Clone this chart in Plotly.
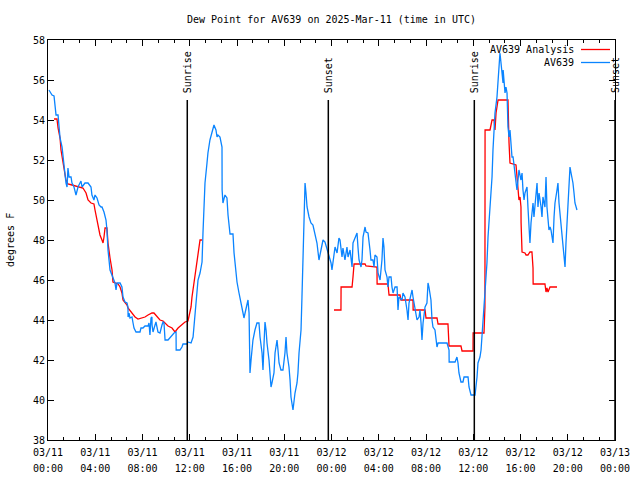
import pandas as pd
import plotly.graph_objects as go

BASE = pd.Timestamp("2025-03-11 00:00")

# ---- AV639 observed dew point (hours since 03/11 00:00 UTC, deg F) ----
blue_h = [0.08,0.34,0.51,0.59,0.68,0.85,0.93,1.02,1.19,1.27,1.35,1.44,1.52,1.61,1.69,1.78,1.95,2.03,2.20,2.37,
          2.54,2.79,2.88,3.13,3.39,3.64,3.72,3.89,3.98,4.15,4.23,4.32,4.49,4.57,4.74,4.83,4.91,4.99,5.03,
          5.08,5.25,5.50,5.67,5.76,5.84,6.10,6.26,6.35,6.52,6.69,6.77,6.78,6.86,6.94,7.11,7.20,7.28,7.45,
          7.79,7.87,8.04,8.21,8.47,8.55,8.63,8.72,8.80,8.81,8.89,9.06,9.14,9.31,9.48,9.65,9.74,9.82,9.91,
          10.16,10.41,10.50,10.67,10.84,10.85,11.17,11.34,11.43,11.77,11.85,12.11,12.28,12.36,12.53,12.61,
          12.70,12.87,13.04,13.12,13.21,13.29,13.46,13.54,13.71,13.88,13.97,14.05,14.22,14.31,14.39,14.56,
          14.73,14.74,14.81,14.98,15.15,15.24,15.41,15.66,15.75,15.92,16.00,16.17,16.34,16.51,16.59,16.76,
          16.93,17.02,17.03,17.10,17.19,17.27,17.35,17.52,17.69,17.86,17.95,18.12,18.20,18.29,18.37,18.46,
          18.54,18.71,18.79,18.88,18.96,19.13,19.22,19.39,19.47,19.56,19.72,19.89,20.06,20.15,20.23,20.40,
          20.49,20.57,20.74,20.83,20.91,21.08,21.16,21.25,21.42,21.50,21.59,21.67,21.76,21.84,21.93,22.10,
          22.26,22.43,22.60,22.77,22.86,22.94,23.11,23.28,23.45,23.62,23.79,23.96,24.04,24.13,24.30,24.47,
          24.63,24.72,24.89,24.97,25.14,25.31,25.40,25.57,25.74,25.82,25.99,26.16,26.24,26.33,26.50,26.58,
          26.67,26.84,26.92,27.09,27.26,27.34,27.51,27.60,27.68,27.85,27.94,28.11,28.27,28.36,28.44,28.53,
          28.70,28.78,28.87,29.04,29.12,29.21,29.38,29.55,29.63,29.71,29.80,29.97,30.05,30.22,30.39,30.48,
          30.56,30.73,30.82,30.90,31.07,31.15,31.24,31.41,31.49,31.58,31.66,31.75,31.92,32.08,32.17,32.25,
          32.42,32.51,32.59,32.76,32.85,32.93,33.02,33.78,33.95,33.96,34.46,34.62,34.71,34.79,34.96,35.13,
          35.22,35.56,35.64,35.81,36.15,36.23,36.32,36.40,36.57,36.66,36.74,36.83,36.91,36.99,37.16,37.25,
          37.42,37.59,37.67,37.76,37.84,38.01,38.10,38.18,38.26,38.35,38.43,38.52,38.53,38.60,38.69,38.77,
          38.86,38.94,39.03,39.11,39.20,39.28,39.37,39.53,39.62,39.70,39.79,39.87,40.04,40.13,40.21,40.30,
          40.38,40.55,40.63,40.72,40.80,40.89,41.06,41.14,41.23,41.40,41.48,41.57,41.74,41.82,41.90,42.07,
          42.16,42.24,42.41,42.50,42.58,42.75,42.84,42.92,43.09,43.17,43.26,43.43,43.51,43.60,43.77,43.85,
          43.94,44.11,44.19,44.28,44.44,44.53,44.61,44.78]
blue_v = [55.5,55.25,55.2,54.7,54.25,54.25,53.85,53.1,52.65,52.15,51.75,51.25,50.85,50.65,51.6,51.15,51.15,50.85,50.65,50.25,
          50.65,50.95,50.65,50.85,50.85,50.65,50.25,50.0,50.25,50.1,49.9,49.75,49.65,49.65,49.4,49.15,49.0,48.5,47.85,
          47.5,46.5,46.15,45.85,45.5,45.85,45.85,45.65,45.15,44.9,44.85,44.65,44.15,44.35,44.1,44.15,43.85,43.6,43.4,
          43.4,43.6,43.6,43.7,43.7,43.85,43.25,44.1,44.15,43.75,43.4,43.75,43.9,43.4,43.35,43.75,43.9,43.85,43.0,
          43.0,43.15,43.25,43.35,43.4,42.5,42.5,42.65,42.8,42.8,42.9,42.85,43.15,43.65,44.65,45.5,
          46.0,46.35,46.9,48.35,49.5,50.85,51.85,52.35,53.0,53.4,53.65,53.75,53.5,53.15,53.25,53.15,
          52.65,50.5,49.85,50.25,50.1,49.25,48.3,48.3,47.35,46.35,45.9,45.35,44.75,44.35,44.1,44.65,
          45.0,44.35,43.15,41.35,42.0,42.5,43.0,43.5,43.85,43.85,43.15,42.35,41.5,42.85,43.9,43.5,
          42.85,42.0,41.35,40.65,40.85,41.35,42.35,43.0,42.5,41.85,41.5,41.5,42.35,43.15,42.35,41.65,
          41.0,40.15,39.5,40.0,40.35,40.85,41.35,42.35,43.5,45.15,47.5,50.0,50.85,50.35,49.65,49.15,
          48.85,48.75,48.35,47.85,47.4,47.0,47.5,48.0,47.9,47.5,47.1,46.85,46.5,47.0,47.65,47.35,
          48.1,48.0,47.15,47.6,47.0,47.65,47.15,47.5,46.65,47.85,48.15,48.35,47.65,47.0,46.65,47.0,
          48.15,48.65,48.4,48.35,47.5,47.0,47.0,46.65,47.25,47.15,46.35,46.0,47.0,48.1,47.65,46.5,
          46.15,45.65,46.15,46.15,45.65,45.35,45.65,45.65,44.5,45.15,45.1,45.0,45.35,45.15,44.5,44.0,
          44.85,45.35,45.5,45.15,44.65,44.35,44.0,44.15,44.5,43.85,43.0,43.85,44.65,44.85,45.85,45.65,
          45.0,44.0,43.65,43.5,42.85,42.65,42.85,42.85,42.5,41.9,41.9,42.15,41.85,41.35,40.9,40.9,
          41.15,41.15,40.65,40.25,40.25,40.65,41.15,41.85,42.15,42.5,43.15,43.85,44.65,45.65,46.85,48.15,
          49.65,51.15,52.5,53.5,54.35,55.15,56.15,56.85,57.35,56.85,56.35,55.85,56.5,56.0,55.35,55.65,
          55.35,53.65,53.15,53.5,52.85,52.15,52.15,51.35,51.15,50.5,51.0,51.5,51.0,51.35,50.5,50.0,
          50.35,50.65,49.65,48.5,47.85,48.85,49.85,49.15,49.85,50.85,49.65,50.35,49.65,49.15,50.15,49.65,
          51.15,49.65,48.5,48.65,48.5,47.85,49.15,49.85,50.5,50.85,49.85,48.85,48.5,47.65,46.65,47.85,
          49.0,50.5,51.65,51.35,50.85,50.35,49.85,49.5]

# ---- AV639 Analysis dew point (two segments) ----
red1_h = [0.51,0.76,0.85,1.02,1.10,1.27,1.35,1.52,1.69,2.03,2.37,2.71,2.96,3.22,3.39,3.64,3.89,3.98,4.15,4.23,
          4.40,4.57,4.66,4.74,4.83,4.99,5.08,5.25,5.42,5.50,5.76,5.93,6.10,6.26,6.35,6.52,6.69,6.77,7.11,7.37,
          7.62,7.96,8.21,8.47,8.80,8.97,9.23,9.48,9.74,9.91,10.16,10.50,10.75,11.01,11.34,11.60,11.85,11.94,
          12.11,12.19,12.36,12.44,12.61,12.70,12.87,13.04]
red1_v = [54.05,54.05,53.6,53.1,52.5,52.0,51.6,51.0,50.8,50.75,50.7,50.65,50.6,50.35,50.0,49.85,49.8,49.5,49.0,48.6,
          48.25,48.0,47.85,48.15,48.6,48.6,47.85,47.1,46.5,45.9,45.85,45.8,45.65,45.35,45.0,44.85,44.75,44.6,44.35,44.15,
          44.05,44.1,44.15,44.25,44.35,44.35,44.15,44.0,43.95,43.85,43.7,43.6,43.4,43.6,43.75,43.9,43.95,44.15,
          44.65,45.15,45.85,46.35,47.0,47.5,48.0,48.0]
red2_h = [24.21,24.80,24.81,25.74,25.82,25.91,26.84,26.92,27.85,27.86,28.78,28.87,29.80,29.88,30.90,30.91,31.92,32.00,
          32.93,33.02,33.86,33.95,34.96,35.05,35.98,35.99,36.91,36.99,37.00,37.42,37.59,37.76,37.84,37.93,38.10,38.94,
          39.03,39.11,39.62,39.70,39.87,39.96,40.04,40.05,40.13,40.38,40.47,40.63,40.80,40.97,41.06,41.07,42.07,42.16,
          42.24,42.33,42.50,43.09]
red2_v = [44.5,44.5,45.65,45.65,46.15,46.8,46.8,46.7,46.65,45.8,45.8,45.25,45.25,45.0,45.0,44.5,44.5,44.1,
          44.1,43.8,43.8,42.7,42.7,42.45,42.45,43.35,43.35,44.65,53.5,53.5,54.0,54.0,53.5,54.35,55.0,55.0,
          52.85,51.85,51.75,51.0,50.0,50.15,49.65,48.85,47.4,47.35,47.25,47.25,47.4,47.4,46.6,45.8,45.8,45.4,
          45.6,45.4,45.65,45.65]

# ---- Sun events ----
sun_labels = ["Sunrise", "Sunset", "Sunrise", "Sunset"]
sun_h = [11.79, 23.73, 36.09, 48.0]

# ---- Axis ticks ----
tick_h = list(range(0, 49, 4))
tick_dates = ["03/11"] * 6 + ["03/12"] * 6 + ["03/13"]
tick_times = ["00:00", "04:00", "08:00", "12:00", "16:00", "20:00"] * 2 + ["00:00"]


def to_t(hours):
    return [BASE + pd.to_timedelta(h, unit="h") for h in hours]


RED = "#ff0000"
BLUE = "#0a84ff"
FONT = "DejaVu Sans Mono"

fig = go.Figure()
fig.add_trace(go.Scatter(x=to_t(red1_h) + [None] + to_t(red2_h), y=red1_v + [None] + red2_v,
                         mode="lines", line=dict(color=RED, width=1.3), connectgaps=False,
                         name="AV639 Analysis"))
fig.add_trace(go.Scatter(x=to_t(blue_h), y=blue_v, mode="lines",
                         line=dict(color=BLUE, width=1.3), name="AV639"))

shapes = []
annotations = []
for lab, h in zip(sun_labels, sun_h):
    t = BASE + pd.to_timedelta(h, unit="h")
    shapes.append(dict(type="line", xref="x", yref="y", x0=t, x1=t, y0=38, y1=55,
                       line=dict(color="black", width=1.5)))
    annotations.append(dict(text=lab, xref="x", yref="y", x=t, y=55.25, textangle=-90,
                            xanchor="center", yanchor="bottom", showarrow=False,
                            font=dict(family=FONT, size=10, color="black")))

# manual legend (text left of the line sample, as in the reference)
def px_x(px):
    return (px - 48) / 567.0

def px_y(py):
    return (440 - py) / 400.0

for name, col, py in [("AV639 Analysis", RED, 49.5), ("AV639", BLUE, 62.5)]:
    annotations.append(dict(text=name, xref="paper", yref="paper", x=px_x(576), y=px_y(py),
                            xanchor="right", yanchor="middle", showarrow=False,
                            font=dict(family=FONT, size=10, color="black")))
    shapes.append(dict(type="line", xref="paper", yref="paper", x0=px_x(581), x1=px_x(610),
                       y0=px_y(py), y1=px_y(py), line=dict(color=col, width=1.3)))

annotations.append(dict(text="degrees F", xref="paper", yref="paper", x=px_x(10), y=0.5,
                        textangle=-90, xanchor="center", yanchor="middle", showarrow=False,
                        font=dict(family=FONT, size=10, color="black")))

ticktext = [f"<span style='font-size:10px'>{d}</span><br><span style='font-size:10px'>{tm}</span>"
            for d, tm in zip(tick_dates, tick_times)]

fig.update_layout(
    width=640, height=480,
    margin=dict(l=48, r=25, t=40, b=40, autoexpand=False),
    paper_bgcolor="white", plot_bgcolor="white",
    showlegend=False,
    title=dict(text="Dew Point for AV639 on 2025-Mar-11 (time in UTC)", x=0.5, xref="paper",
               y=1 - 19 / 480, yanchor="middle", font=dict(family=FONT, size=10, color="black")),
    shapes=shapes, annotations=annotations,
    xaxis=dict(range=[BASE, BASE + pd.Timedelta(hours=48)], tickvals=to_t(tick_h), ticktext=ticktext,
               automargin=False,
               showgrid=False, zeroline=False, showline=True, linecolor="black", linewidth=1,
               mirror="ticks", ticks="inside", ticklen=6, tickcolor="black",
               tickfont=dict(family=FONT, size=12.3, color="black"),
               minor=dict(dtick=80 * 60 * 1000, tick0=BASE, ticks="inside", ticklen=3,
                          tickcolor="black", showgrid=False)),
    yaxis=dict(range=[38, 58], dtick=2, tick0=38, showgrid=False, zeroline=False, showline=True,
               automargin=False,
               linecolor="black", linewidth=1, mirror="ticks", ticks="inside", ticklen=6,
               tickcolor="black", tickfont=dict(family=FONT, size=10, color="black")),
)

fig.write_html("out.html", config={"displayModeBar": False},
               post_script="document.body.style.margin='0';document.body.style.overflow='hidden';")
